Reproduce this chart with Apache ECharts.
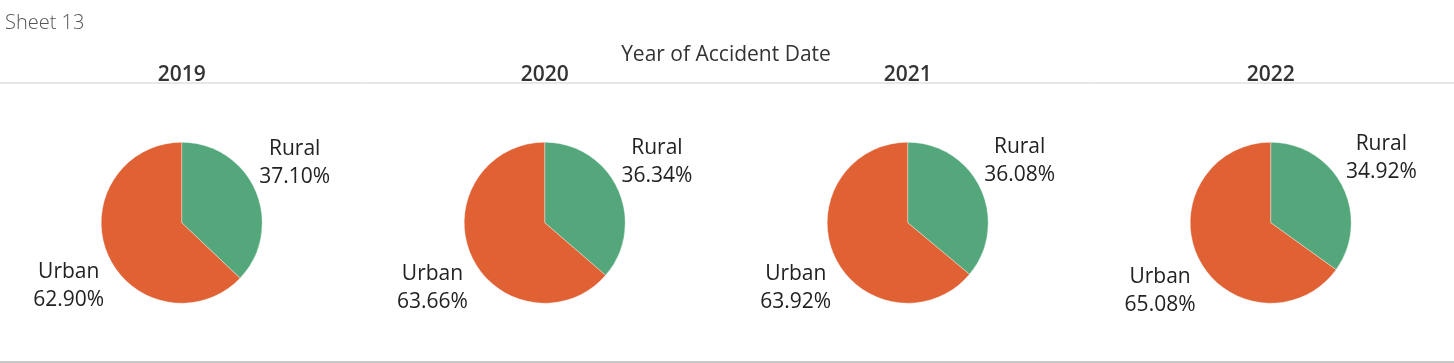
<!DOCTYPE html>
<html>
<head>
<meta charset="utf-8">
<script src="https://cdn.jsdelivr.net/npm/echarts@6/dist/echarts.min.js"></script>
<style>
html,body{margin:0;padding:0;background:#fff;}
#chart{width:1454px;height:363px;}
</style>
</head>
<body>
<div id="chart"></div>
<script>
const years = ['2019', '2020', '2021', '2022'];
const categories = ['Rural', 'Urban'];
const ruralPct = [37.10, 36.34, 36.08, 34.92];
const urbanPct = [62.90, 63.66, 63.92, 65.08];
const colors = ['#54a77b', '#e06133'];

const FONT = '"Open Sans", Lato, sans-serif';
const chart = echarts.init(document.getElementById('chart'), null, {renderer: 'canvas'});

const pieX = i => 181.7 + 363 * i;

const titles = [
  {text: 'Sheet 13', left: 5, top: 13, padding: 0,
   textStyle: {fontFamily: FONT, fontSize: 20, fontWeight: 300, color: '#555'}},
  {text: 'Year of Accident Date', left: 726, top: 45, padding: 0, textAlign: 'center',
   textStyle: {fontFamily: FONT, fontSize: 21, fontWeight: 500, color: '#333'}}
];
years.forEach((y, i) => {
  titles.push({text: y, left: pieX(i), top: 65, padding: 0, textAlign: 'center',
    textStyle: {fontFamily: FONT, fontSize: 21, fontWeight: 600, color: '#333'}});
});

const series = years.map((y, i) => ({
  type: 'pie',
  name: y,
  center: [pieX(i), 222.7],
  radius: 80.5,
  startAngle: 90,
  clockwise: true,
  silent: true,
  avoidLabelOverlap: false,
  itemStyle: {borderColor: 'rgba(255,255,255,0.6)', borderWidth: 0.6},
  label: {
    show: true,
    position: 'outside',
    alignTo: 'none',
    distanceToLabelLine: 0,
    fontFamily: FONT,
    fontSize: 21,
    lineHeight: 28,
    color: '#222',
    formatter: p => p.name + '\n' + p.value.toFixed(2) + '%'
  },
  labelLine: {show: false, length: 0, length2: 0},
  labelLayout: p => p.dataIndex === 0
    ? {align: 'center', verticalAlign: 'middle', dx: 39, dy: -27.5}
    : {align: 'center', verticalAlign: 'middle', dx: -39, dy: 31.5},
  data: [
    {name: categories[0], value: ruralPct[i], itemStyle: {color: colors[0]}},
    {name: categories[1], value: urbanPct[i], itemStyle: {color: colors[1]}}
  ]
}));

chart.setOption({
  animation: false,
  backgroundColor: '#fff',
  title: titles,
  graphic: [
    {type: 'line', shape: {x1: 0, y1: 83, x2: 1454, y2: 83}, style: {stroke: '#cfcfcf', lineWidth: 1}},
    {type: 'line', shape: {x1: 0, y1: 362, x2: 1454, y2: 362}, style: {stroke: '#c8c8c8', lineWidth: 2}}
  ],
  series: series
});
</script>
</body>
</html>
